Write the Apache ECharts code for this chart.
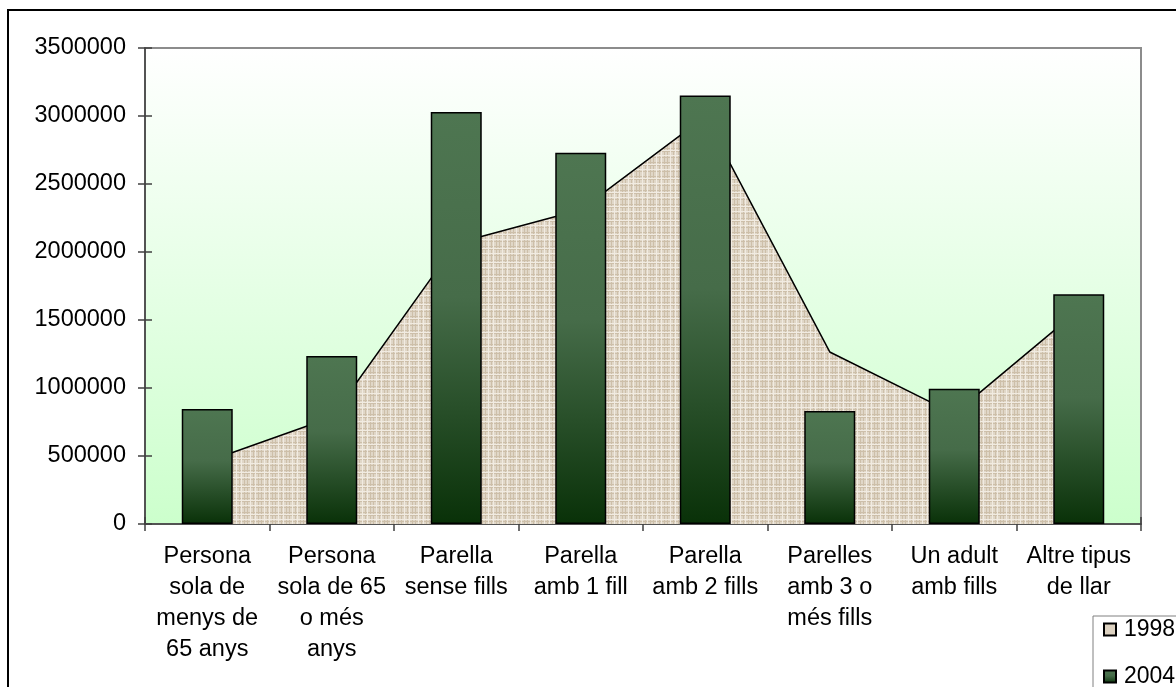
<!DOCTYPE html>
<html>
<head>
<meta charset="utf-8">
<script src="https://cdn.jsdelivr.net/npm/echarts@6/dist/echarts.min.js"></script>
<style>
html,body{margin:0;padding:0;background:#fff;}
#chart{width:1176px;height:687px;}
</style>
</head>
<body>
<div id="chart"></div>
<script>
const categories = [
  "Persona\nsola de\nmenys de\n65 anys",
  "Persona\nsola de 65\no més\nanys",
  "Parella\nsense fills",
  "Parella\namb 1 fill",
  "Parella\namb 2 fills",
  "Parelles\namb 3 o\nmés fills",
  "Un adult\namb fills",
  "Altre tipus\nde llar"
];
const seriesNames = ["1998", "2004"];
const values1998 = [460000, 785000, 2065000, 2310000, 2995000, 1265000, 810000, 1575000];
const values2004 = [845000, 1235000, 3030000, 2730000, 3150000, 830000, 995000, 1690000];
const yMin = 0, yMax = 3500000, yStep = 500000;

// beige woven texture for the area fill
function makeTexture() {
  const c = document.createElement('canvas');
  c.width = 14; c.height = 14;
  const g = c.getContext('2d');
  g.fillStyle = '#e0d7c8';
  g.fillRect(0, 0, 14, 14);
  g.fillStyle = '#cdbfa9';
  [1, 6, 9].forEach(function (p) { g.fillRect(p, 0, 1, 14); g.fillRect(0, p + 2, 14, 1); });
  g.fillStyle = '#f1ebe1';
  [3, 12].forEach(function (p) { g.fillRect(p, 0, 1, 14); g.fillRect(0, p - 2, 14, 1); });
  return c;
}

const chart = echarts.init(document.getElementById('chart'), null, {renderer: 'canvas'});
const font = '"Liberation Sans", Arial, sans-serif';

chart.setOption({
  animation: false,
  backgroundColor: '#ffffff',
  textStyle: {fontFamily: font},
  graphic: [{
    type: 'rect',
    shape: {x: 8, y: 10, width: 1400, height: 1000},
    style: {fill: 'none', stroke: '#000', lineWidth: 2},
    z: 100
  }],
  grid: {
    left: 145, top: 48, right: 35, bottom: 163,
    show: true,
    borderColor: '#8c8c8c',
    borderWidth: 2,
    backgroundColor: new echarts.graphic.LinearGradient(0, 0, 0, 1, [
      {offset: 0, color: '#ffffff'},
      {offset: 1, color: '#ccffcc'}
    ])
  },
  legend: {
    orient: 'vertical',
    left: 1093, top: 616,
    width: 200, height: 200,
    data: seriesNames,
    itemWidth: 12, itemHeight: 12,
    itemGap: 24,
    padding: [2, 40, 8, 10],
    borderColor: '#808080', borderWidth: 1,
    backgroundColor: '#fff',
    icon: 'rect',
    textStyle: {fontSize: 23, color: '#000', fontFamily: font, padding: [0, 0, 0, 3]}
  },
  xAxis: [{
    type: 'category',
    data: categories,
    boundaryGap: true,
    axisLine: {lineStyle: {color: '#404040', width: 1.5}},
    axisTick: {show: true, alignWithLabel: false, length: 7, lineStyle: {color: '#404040', width: 1.5}},
    axisLabel: {interval: 0, fontSize: 23.5, lineHeight: 31, color: '#000', margin: 17, fontFamily: font}
  }, {
    type: 'category',
    data: categories,
    boundaryGap: true,
    position: 'bottom',
    axisLine: {show: false},
    axisTick: {show: true, inside: true, length: 7, lineStyle: {color: '#404040', width: 1.5}},
    axisLabel: {show: false}
  }],
  yAxis: [{
    type: 'value',
    min: yMin, max: yMax, interval: yStep,
    axisLine: {show: true, lineStyle: {color: '#404040', width: 1.5}},
    axisTick: {show: true, length: 7, lineStyle: {color: '#404040', width: 1.5}},
    splitLine: {show: false},
    axisLabel: {fontSize: 23.5, color: '#000', margin: 19, fontFamily: font, formatter: function (v) { return String(v); }}
  }, {
    type: 'value',
    position: 'left',
    min: yMin, max: yMax, interval: yStep,
    axisLine: {show: false},
    axisTick: {show: true, inside: true, length: 7, lineStyle: {color: '#404040', width: 1.5}},
    splitLine: {show: false},
    axisLabel: {show: false}
  }],
  series: [{
    name: seriesNames[0],
    type: 'line',
    data: values1998,
    symbol: 'none',
    z: 1,
    lineStyle: {color: '#000', width: 1.5},
    itemStyle: {color: '#ddd2c1', borderColor: '#000', borderWidth: 1},
    areaStyle: {color: {image: makeTexture(), repeat: 'repeat'}, opacity: 1}
  }, {
    name: seriesNames[1],
    type: 'bar',
    data: values2004,
    barWidth: 51,
    z: 3,
    itemStyle: {
      borderColor: '#000', borderWidth: 1.5,
      color: new echarts.graphic.LinearGradient(0, 0, 0, 1, [
        {offset: 0, color: '#4e7651'},
        {offset: 0.45, color: '#466c49'},
        {offset: 1, color: '#093108'}
      ])
    }
  }]
});
</script>
</body>
</html>
